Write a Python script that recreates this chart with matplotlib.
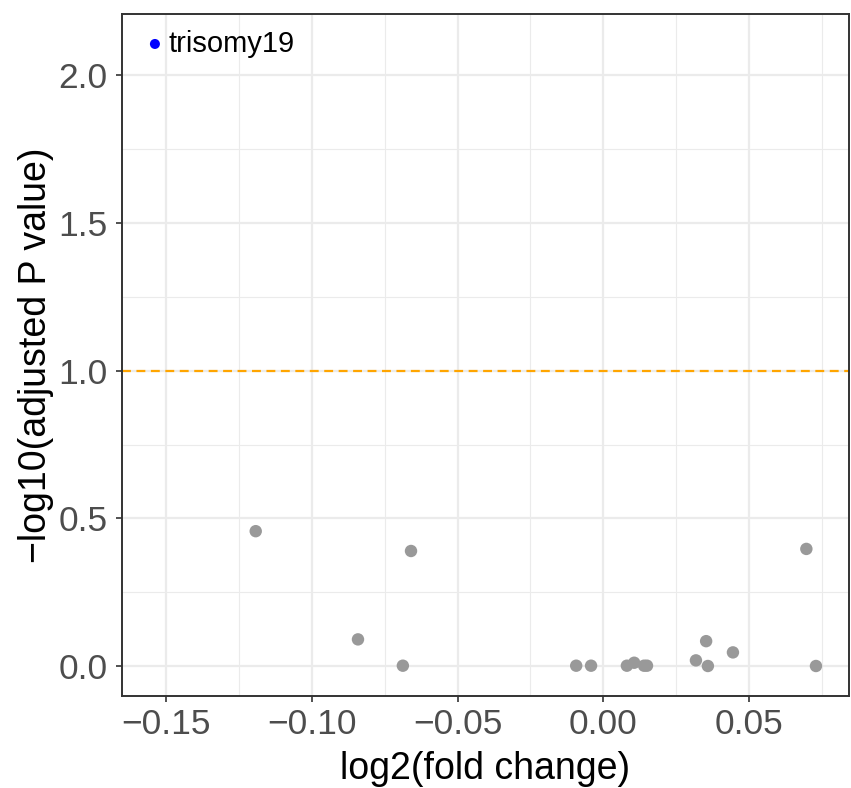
import matplotlib
matplotlib.use("Agg")
import matplotlib.pyplot as plt
from matplotlib.ticker import MultipleLocator, FuncFormatter

plt.rcParams['font.family'] = ['Liberation Sans', 'DejaVu Sans']

# data
log2fc = [-0.1193, -0.0842, -0.0688, -0.0660, -0.0093, -0.0042, 0.0081, 0.0106,
          0.0140, 0.0150, 0.0318, 0.0353, 0.0359, 0.0445, 0.0697, 0.0730]
neglog10p = [0.457, 0.091, 0.002, 0.390, 0.002, 0.002, 0.002, 0.012,
             0.002, 0.002, 0.020, 0.085, 0.001, 0.047, 0.397, 0.001]
sig_name = "trisomy19"
sig_x = -0.1539
sig_y = 2.105
threshold = 1.0
x_ticks = [-0.15, -0.10, -0.05, 0.00, 0.05]
y_ticks = [0.0, 0.5, 1.0, 1.5, 2.0]

fig = plt.figure(figsize=(8.51, 7.88), dpi=100)
ax = fig.add_axes([122/851, 1-696/788, (848.6-122)/851, (696-14.4)/788])

grid_c = "#EBEBEB"
ax.set_axisbelow(True)
ax.xaxis.set_minor_locator(MultipleLocator(0.025))
ax.yaxis.set_minor_locator(MultipleLocator(0.25))
ax.set_xticks(x_ticks)
ax.set_yticks(y_ticks)
ax.grid(which='major', color=grid_c, linewidth=1.6)
ax.grid(which='minor', color=grid_c, linewidth=0.8)

ax.axhline(threshold, color='#FFA500', linestyle=(0, (4, 2.5)), linewidth=1.6, zorder=2)

ax.scatter(log2fc, neglog10p, s=80, color='#999999', edgecolors='none', zorder=3)
ax.scatter([sig_x], [sig_y], s=52, color='#0000FF', edgecolors='none', zorder=3)
ax.text(sig_x + 0.0045, sig_y, sig_name, fontsize=21, va='center', ha='left', color='black')

ax.set_xlim(-0.1652, 0.0842)
ax.set_ylim(-0.1005, 2.205)

fmt_x = FuncFormatter(lambda v, p: f"{v:.2f}".replace('-', '\u2212'))
fmt_y = FuncFormatter(lambda v, p: f"{v:.1f}".replace('-', '\u2212'))
ax.xaxis.set_major_formatter(fmt_x)
ax.yaxis.set_major_formatter(fmt_y)

ax.tick_params(which='major', length=4.5, width=1.2, color='#333333', labelsize=25.5,
               labelcolor='#4D4D4D')
ax.tick_params(axis='x', which='major', pad=4)
ax.tick_params(axis='y', which='major', pad=6)
ax.tick_params(which='minor', length=0)
for s in ax.spines.values():
    s.set_color('#333333')
    s.set_linewidth(1.4)

ax.set_xlabel("log2(fold change)", fontsize=27, color='black', labelpad=7)
ax.set_ylabel("\u2212log10(adjusted P value)", fontsize=27, color='black', labelpad=3)

fig.savefig("out.png", dpi=100)
